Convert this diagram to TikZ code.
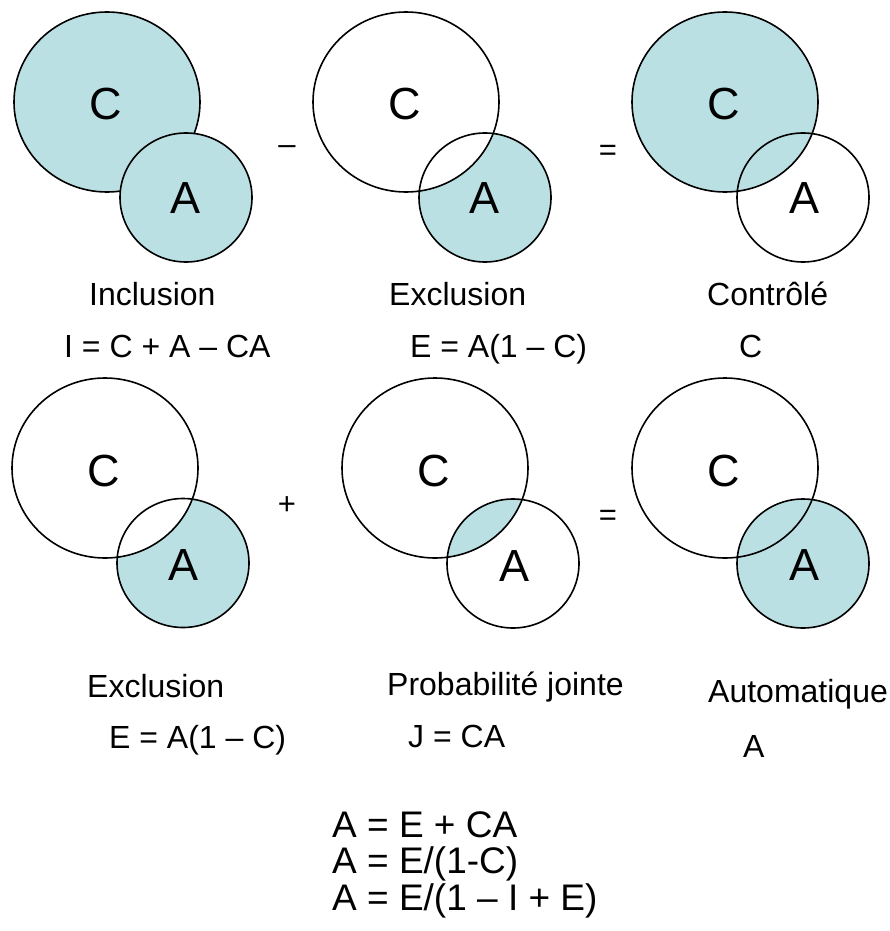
\documentclass[tikz,border=0pt]{standalone}
\usepackage{fontspec}
\setmainfont{Liberation Sans}
\definecolor{venn}{RGB}{187,224,227}
\begin{document}
\begin{tikzpicture}[x=1pt,y=-1pt,
  ring/.style={draw=black,line width=1.6pt},
  letter/.style={inner sep=0pt,anchor=center,font=\fontsize{45}{54}\selectfont},
  lbl/.style={inner sep=0pt,anchor=base west,font=\fontsize{32}{38}\selectfont},
  op/.style={inner sep=0pt,anchor=center,font=\fontsize{31}{37}\selectfont},
  big/.style={inner sep=0pt,anchor=base west,font=\fontsize{37}{44}\selectfont}]
\useasboundingbox (0,0) rectangle (890,931);
\def\cr{ ellipse [x radius=93pt, y radius=90pt]}
\def\ar{ ellipse [x radius=66pt, y radius=64.5pt]}
% ---- top-left: union
\fill[venn] (107,102)\cr;
\draw[ring] (107,102)\cr;
\fill[venn] (186,197.5)\ar;
\draw[ring] (186,197.5)\ar;
% ---- top-middle: A minus C
\fill[venn] (485,197.5)\ar;
\fill[white] (406,102)\cr;
\draw[ring] (406,102)\cr;
\draw[ring] (485,197.5)\ar;
% ---- top-right: C
\fill[venn] (725,102)\cr;
\draw[ring] (725,102)\cr;
\draw[ring] (803,197.5)\ar;
% ---- bottom-left: A minus C
\fill[venn] (183,563)\ar;
\fill[white] (105,468)\cr;
\draw[ring] (105,468)\cr;
\draw[ring] (183,563)\ar;
% ---- bottom-middle: intersection
\begin{scope}
\clip (435,468)\cr;
\fill[venn] (513,563.5)\ar;
\end{scope}
\draw[ring] (435,468)\cr;
\draw[ring] (513,563.5)\ar;
% ---- bottom-right: A
\fill[venn] (803,563.5)\ar;
\draw[ring] (725,468)\cr;
\draw[ring] (803,563.5)\ar;
% letters
\node[letter] (c1) at (106,104) {C};
\node[letter] (a1) at (186,198) {A};
\node[letter] (c2) at (405,104) {C};
\node[letter] (a2) at (485,198) {A};
\node[letter] (c3) at (724,104) {C};
\node[letter] (a3) at (804,198) {A};
\node[letter] (c4) at (104,471) {C};
\node[letter] (a4) at (184,565) {A};
\node[letter] (c5) at (434,471) {C};
\node[letter] (a5) at (514,566) {A};
\node[letter] (c6) at (724,471) {C};
\node[letter] (a6) at (804,565) {A};
% operators
\node[op] (minus) at (287,150) {–};
\node[op] (eq1) at (608,153) {=};
\node[op] (plus) at (287,506) {+};
\node[op] (eq2) at (608,518) {=};
% labels
\node[lbl] (l1) at (89,305) {Inclusion};
\node[lbl] (f1) at (64,357) {I = C + A – CA};
\node[lbl] (l2) at (389,305) {Exclusion};
\node[lbl] (f2) at (410,357) {E = A(1 – C)};
\node[lbl] (l3) at (707,305) {Contrôlé};
\node[lbl] (f3) at (739,357) {C};
\node[lbl] (l4) at (87,697) {Exclusion};
\node[lbl] (f4) at (109,748) {E = A(1 – C)};
\node[lbl] (l5) at (387,695) {Probabilité jointe};
\node[lbl] (f5) at (408,747) {J = CA};
\node[lbl] (l6) at (708,702) {Automatique};
\node[lbl] (f6) at (743,757) {A};
% bottom equations
\node[big] (e1) at (332,837) {A = E + CA};
\node[big] (e2) at (332,873) {A = E/(1-C)};
\node[big] (e3) at (332,910) {A = E/(1 – I + E)};
\end{tikzpicture}
\end{document}
